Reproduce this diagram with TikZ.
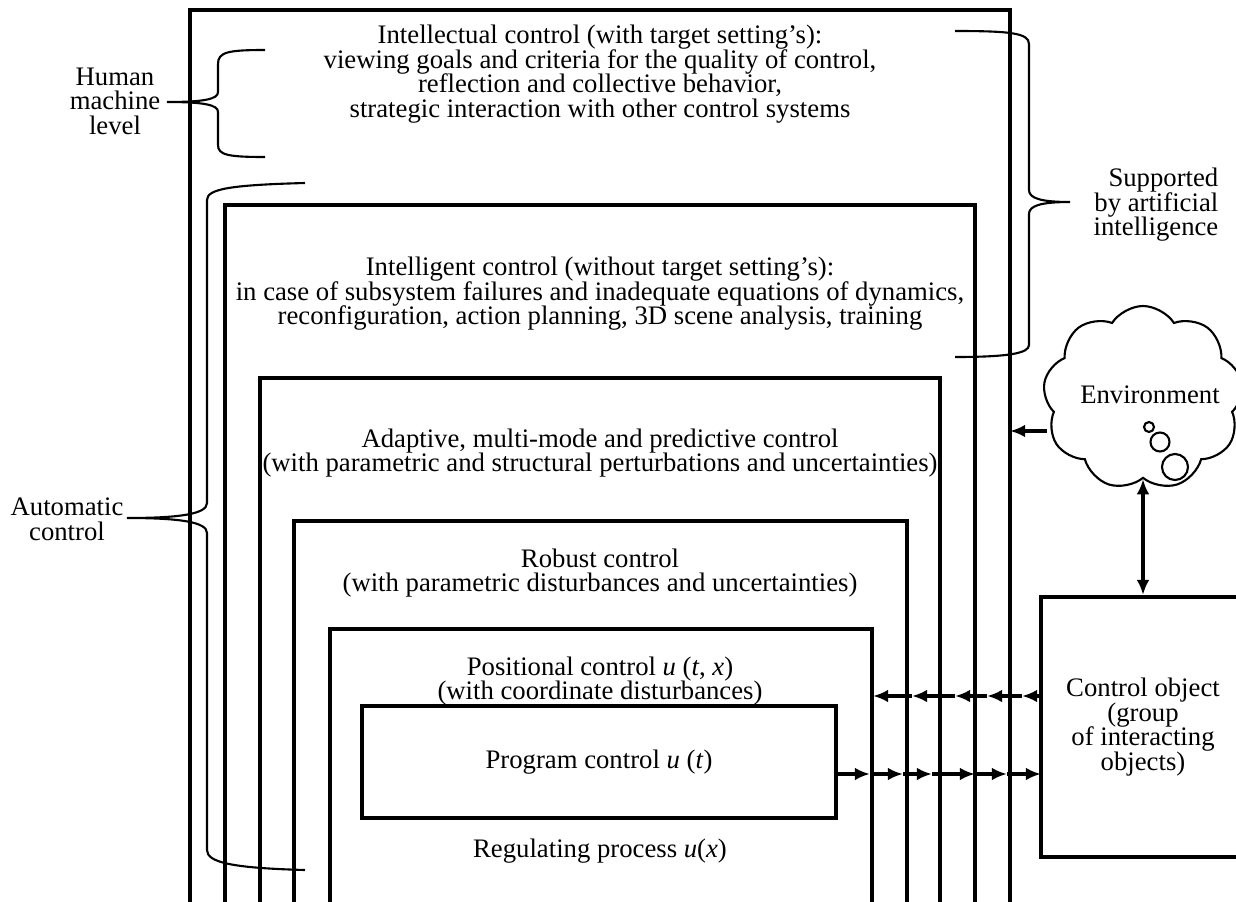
\documentclass[tikz,border=0pt]{standalone}
\usepackage{fontspec}
\setmainfont{Liberation Serif}
\usetikzlibrary{arrows.meta,shapes.symbols,positioning}

\begin{document}
\begin{tikzpicture}[x=0.25mm, y=-0.25mm, font=\fontsize{19}{17.5}\selectfont]

    % Define styles
    \tikzset{
        frame/.style = {line width=2.8pt},
        brace/.style = {line width=1.5pt},
        arr/.style = {line width=2.8pt, -{Latex[length=3.8mm, width=3.2mm]}},
        txt/.style = {align=center, inner sep=0pt},
        block/.style = {draw, line width=2.8pt, rectangle, align=center},
    }
    \useasboundingbox (0,0) rectangle (1236,902);

    % Nested frames (open at the bottom)
    \foreach \l/\t/\r/\n in {190/10/1010/intel, 225/205/975/intg, 260/378/940/adapt, 294/521/907/robust, 330/629/872/posit} {
        \draw[frame] (\l,910) |- (\r,\t) -- (\r,910);
        \coordinate (\n-r) at (\r,\t);
    }

    % Texts
    \node[txt] (t-intel) at (600,74) {Intellectual control (with target setting’s):\\
        viewing goals and criteria for the quality of control,\\
        reflection and collective behavior,\\
        strategic interaction with other control systems};
    \node[txt] (t-intg) at (600,294) {Intelligent control (without target setting’s):\\
        in case of subsystem failures and inadequate equations of dynamics,\\
        reconfiguration, action planning, 3D scene analysis, training};
    \node[txt] (t-adapt) at (600,453) {Adaptive, multi-mode and predictive control\\
        (with parametric and structural perturbations and uncertainties)};
    \node[txt] (t-robust) at (600,573) {Robust control\\
        (with parametric disturbances and uncertainties)};
    \node[txt] (t-posit) at (600,681) {Positional control \textit{u} (\textit{t}, \textit{x})\\
        (with coordinate disturbances)};
    \node[block, minimum width=118.5mm, minimum height=28mm] (prog) at (599,762) {Program control \textit{u} (\textit{t})};
    \node[txt] (t-reg) at (600,851) {Regulating process \textit{u}(\textit{x})};

    % Control object and environment
    \node[block, minimum width=51mm, minimum height=65mm] (obj) at (1143,727) {Control object\\(group\\of interacting\\objects)};
    \node[cloud, draw, line width=1.5pt, cloud puffs=9, cloud puff arc=115, aspect=1.1,
          minimum width=50mm, minimum height=46mm] (env) at (1143,398) {};
    \node[txt] (t-env) at (1150,395) {Environment};
    \draw[brace] (1149,427) circle (5) (1160,442) circle (9.5) (1175,467) circle (13);

    % Arrows
    \draw[line width=2.8pt, {Latex[length=3.8mm, width=3.2mm]}-{Latex[length=3.8mm, width=3.2mm]}] (env.south) -- (obj.north);
    \coordinate (envout) at (1047,431);
    \draw[arr] (envout) -- (intel-r |- envout);

    \coordinate (p0) at (836,774);
    \foreach \x [count=\i, remember=\i as \j (initially 0)] in {870,903,932,975,1007,1041} {
        \coordinate (p\i) at (\x,774);
        \draw[arr] (p\j) -- (p\i);
    }
    \coordinate (q0) at (1041,696);
    \foreach \x [count=\i, remember=\i as \j (initially 0)] in {1022,987,955,912,873} {
        \coordinate (q\i) at (\x,696);
        \draw[arr] (q\j) -- (q\i);
    }

    % Braces
    \draw[brace] (265,50) .. controls (228,50) and (218,52) .. (218,64) -- (218,92)
        .. controls (218,99) and (205,102) .. (167,102)
        .. controls (205,102) and (218,105) .. (218,112) -- (218,145)
        .. controls (218,155) and (228,157) .. (265,157);
    \node[txt] (t-human) at (115,101) {Human\\machine\\level};

    \draw[brace] (305,183) .. controls (230,185) and (207,189) .. (207,200) -- (207,503)
        .. controls (207,514) and (180,518) .. (127,518)
        .. controls (180,518) and (207,522) .. (207,533) -- (207,850)
        .. controls (207,862) and (230,868) .. (305,870);
    \node[txt] (t-auto) at (67,519) {Automatic\\control};

    \draw[brace] (955,31) .. controls (1010,31) and (1029,33) .. (1029,44) -- (1029,190)
        .. controls (1029,198) and (1040,202) .. (1070,202)
        .. controls (1040,202) and (1029,206) .. (1029,214) -- (1029,345)
        .. controls (1029,353) and (1010,357) .. (955,357);
    \node[txt, align=right] (t-ai) at (1156,205) {Supported\\by artificial\\intelligence};

\end{tikzpicture}
\end{document}
